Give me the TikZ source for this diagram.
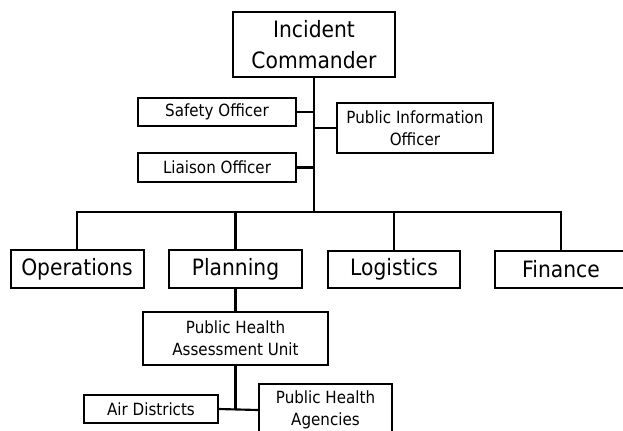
\documentclass[tikz,border=0pt]{standalone}
\usepackage{fontspec}
\setmainfont{DejaVu Sans}[FakeStretch=0.9]
\usetikzlibrary{positioning}
\newlength{\unitpx}
\setlength{\unitpx}{0.75pt}
\tikzset{
  orgbox/.style={draw=black,line width=1.5pt,align=center,inner sep=0pt,fill=white},
  bigbox/.style={orgbox,font=\fontsize{16.9}{23.8}\selectfont},
  smallbox/.style={orgbox,font=\fontsize{12.6}{16.3}\selectfont},
  orglink/.style={line width=1.6pt,draw=black}
}

\begin{document}
\begin{tikzpicture}[x=\unitpx,y=-\unitpx]
\path[fill=white,use as bounding box] (0,0) rectangle (623,430);
% command staff
\node[bigbox,minimum width=162\unitpx,minimum height=65\unitpx] (ic) at (314,44.5) {Incident\\Commander};
\node[smallbox,minimum width=158\unitpx,minimum height=28\unitpx] (safety) at (217,112) {Safety Officer};
\node[smallbox,minimum width=158\unitpx,minimum height=29\unitpx] (liaison) at (217,167.5) {Liaison Officer};
\node[smallbox,minimum width=156\unitpx,minimum height=50\unitpx] (pio) at (415,128) {Public Information\\Officer};
% general staff
\node[bigbox,minimum width=133\unitpx,minimum height=38\unitpx] (ops) at (77,269) {Operations};
\node[bigbox,minimum width=133\unitpx,minimum height=38\unitpx] (plan) at (235.5,269) {Planning};
\node[bigbox,minimum width=132\unitpx,minimum height=37\unitpx] (logi) at (394,269.5) {Logistics};
\node[bigbox,minimum width=132\unitpx,minimum height=37\unitpx] (fin) at (561,269.5) {Finance};
% planning section
\node[smallbox,minimum width=185\unitpx,minimum height=53\unitpx] (phau) at (235.5,338.5) {Public Health\\Assessment Unit};
\node[smallbox,minimum width=134\unitpx,minimum height=28\unitpx] (air) at (151,409) {Air Districts};
\node[smallbox,minimum width=133\unitpx,minimum height=52\unitpx] (pha) at (325.5,410) {Public Health\\Agencies};
\coordinate (bus) at (314,212);
\coordinate (split) at (phau.south |- air.east);
\draw[orglink] (ic.south) -- (bus);
\draw[orglink] (safety.east) -- (safety.east -| ic.south);
\draw[orglink] (liaison.east) -- (liaison.east -| ic.south);
\draw[orglink] (pio.west) -- (pio.west -| ic.south);
\draw[orglink] (ops.north) |- (bus) -| (fin.north);
\draw[orglink] (plan.north) -- (plan.north |- bus);
\draw[orglink] (logi.north) -- (logi.north |- bus);
\draw[orglink] (plan.south) -- (phau.north);
\draw[orglink] (phau.south) -- (split);
\draw[orglink] (air.east) -- (pha.west);
\end{tikzpicture}
\end{document}
